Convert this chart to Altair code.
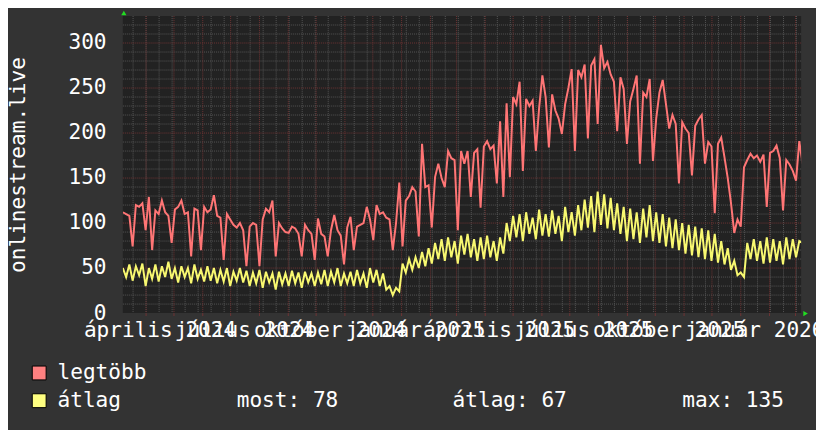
import altair as alt
import pandas as pd

# ---------------- data ----------------
START = "2024-03-07"          # first sample
STEP = "84h"                  # 3.5 days between samples
END = "2026-03-07"

legtobb = [
    112, 110, 108, 74, 120, 118, 122, 92, 129, 70,
    114, 110, 125, 112, 108, 78, 115, 118, 125, 110,
    112, 63, 116, 114, 70, 118, 112, 115, 131, 108,
    106, 59, 110, 104, 98, 95, 100, 92, 52, 96,
    100, 98, 52, 104, 116, 112, 125, 63, 100, 94,
    90, 89, 96, 94, 88, 63, 98, 92, 88, 59,
    105, 88, 85, 63, 92, 109, 92, 86, 54, 95,
    107, 70, 96, 98, 100, 118, 104, 81, 120, 110,
    112, 106, 104, 70, 100, 145, 74, 125, 130, 140,
    135, 85, 188, 140, 142, 95, 151, 166, 150, 140,
    180, 172, 170, 92, 180, 166, 180, 129, 178, 182,
    117, 185, 191, 182, 186, 144, 213, 129, 233, 151,
    240, 232, 257, 158, 238, 230, 236, 180, 228, 264,
    240, 184, 243, 225, 216, 199, 232, 250, 271, 180,
    270, 262, 276, 194, 275, 282, 210, 298, 272, 279,
    265, 257, 202, 262, 249, 188, 235, 249, 264, 166,
    245, 240, 260, 169, 216, 245, 259, 232, 205, 220,
    210, 144, 212, 205, 200, 153, 208, 215, 220, 166,
    190, 185, 111, 188, 195, 173, 150, 122, 89, 104,
    96, 162, 170, 177, 172, 175, 168, 176, 118, 178,
    180, 186, 172, 114, 170, 165, 158, 147, 191, 166,
]

atlag = [
    50, 40, 54, 36, 52, 42, 55, 30, 50, 38,
    54, 35, 52, 40, 57, 38, 50, 34, 52, 40,
    50, 33, 54, 38, 48, 35, 52, 36, 50, 33,
    48, 35, 50, 30, 46, 36, 50, 34, 47, 30,
    45, 33, 48, 28, 46, 34, 44, 26, 46, 32,
    44, 30, 47, 33, 45, 28, 46, 34, 44, 30,
    45, 32, 48, 30, 46, 34, 50, 30, 44, 33,
    46, 30, 48, 33, 44, 28, 50, 34, 48, 30,
    44, 26, 30, 20, 28, 24, 55, 45, 60, 48,
    62, 50, 68, 52, 72, 55, 78, 60, 82, 58,
    84, 62, 80, 55, 86, 65, 88, 62, 82, 58,
    84, 60, 86, 62, 80, 58, 84, 66, 100, 80,
    108, 84, 110, 80, 112, 88, 106, 82, 115, 86,
    110, 85, 114, 88, 108, 80, 118, 90, 112, 86,
    120, 92, 126, 95, 130, 90, 135, 98, 132, 94,
    128, 92, 122, 88, 118, 80, 116, 82, 112, 78,
    116, 84, 120, 80, 112, 78, 110, 74, 106, 72,
    104, 70, 100, 66, 98, 64, 96, 62, 94, 60,
    92, 58, 88, 56, 80, 54, 72, 48, 58, 42,
    45, 40, 78, 60, 82, 58, 80, 55, 84, 56,
    82, 58, 80, 54, 84, 60, 82, 62, 80, 78,
]

series_names = ["legtöbb", "átlag"]
series_colors = ["#ff7575", "#f8f870"]
legend_fill = ["#ff8080", "#ffff80"]

month_names_hu = ["január", "február", "március", "április", "május", "június",
                  "július", "augusztus", "szeptember", "október", "november", "december"]
label_months = ["2024-04-01", "2024-07-01", "2024-10-01", "2025-01-01",
                "2025-04-01", "2025-07-01", "2025-10-01", "2026-01-01"]
y_ticks = [0, 50, 100, 150, 200, 250, 300]
stats = ["most: 78", "átlag: 67", "max: 135"]
y_title = "onlinestream.live"

# ---------------- tables ----------------
n = len(atlag)
dates = pd.date_range(START, periods=n, freq=STEP)
df = pd.DataFrame({
    "date": list(dates) * 2,
    "value": legtobb + atlag,
    "series": [series_names[0]] * n + [series_names[1]] * n,
})

minor_y = pd.DataFrame({"v": [v for v in range(10, 330, 10) if v % 50]})
major_y = pd.DataFrame({"v": [v for v in range(50, 330, 50)]})
month_starts = pd.DataFrame({"d": pd.date_range("2024-04-01", "2026-03-01", freq="MS")})
minor_x = pd.DataFrame({"d": pd.date_range("2024-03-18", END, freq="14D")})
lab_dates = [pd.Timestamp(m) for m in label_months]
labels_df = pd.DataFrame({
    "d": [m + pd.Timedelta(days=15) for m in lab_dates],
    "t": [f"{month_names_hu[m.month - 1]} {m.year}" for m in lab_dates],
})

FONT = "DejaVu Sans Mono"
FS = 21.3
TXT = "#ffffff"
GRID_GRAY = "#555555"
GRID_RED = "#6e3434"

x_scale = alt.Scale(domain=[alt.DateTime(year=2024, month=3, date=7),
                            alt.DateTime(year=2026, month=3, date=7)])
y_scale = alt.Scale(domain=[0, 330], nice=False, zero=True)

y_axis = alt.Axis(values=y_ticks, title=y_title, grid=False, domain=False, ticks=False,
                  labelPadding=17, labelFont=FONT, labelFontSize=FS, labelColor=TXT,
                  labelBaseline="middle",
                  titleFont=FONT, titleFontSize=FS, titleColor=TXT, titleFontWeight="normal",
                  titleAngle=270, titleAlign="center", titleBaseline="middle",
                  titleX=-105, titleY=150)

def xenc(field):
    return alt.X(field, scale=x_scale, axis=None)

def yenc(field):
    return alt.Y(field, scale=y_scale, axis=y_axis)

g_minor_h = alt.Chart(minor_y).mark_rule(color=GRID_GRAY, strokeDash=[1, 1], strokeWidth=1).encode(y=yenc("v:Q"))
g_minor_v = alt.Chart(minor_x).mark_rule(color=GRID_GRAY, strokeDash=[1, 1], strokeWidth=1).encode(x=xenc("d:T"))
g_major_h = alt.Chart(major_y).mark_rule(color=GRID_RED, strokeDash=[1, 1], strokeWidth=1).encode(y=yenc("v:Q"))
g_major_v = alt.Chart(month_starts).mark_rule(color=GRID_RED, strokeDash=[1, 1], strokeWidth=1).encode(x=xenc("d:T"))
g_ticks = alt.Chart(month_starts).mark_rule(color=GRID_RED, strokeWidth=1).encode(
    x=xenc("d:T"), y=alt.value(300), y2=alt.value(303))

lines = alt.Chart(df).mark_line(strokeWidth=2, clip=True).encode(
    x=xenc("date:T"),
    y=yenc("value:Q"),
    color=alt.Color("series:N", scale=alt.Scale(domain=series_names, range=series_colors), legend=None),
    detail="series:N",
)

xlabels = alt.Chart(labels_df).mark_text(font=FONT, fontSize=FS, color=TXT, align="center",
                                         baseline="alphabetic").encode(
    x=xenc("d:T"), y=alt.value(324), text="t:N")

layers = [g_minor_h, g_minor_v, g_major_h, g_major_v, g_ticks, lines, xlabels]

# legend
for i, (name, col) in enumerate(zip(series_names, legend_fill)):
    one = pd.DataFrame({"name": [name]})
    layers.append(alt.Chart(one).mark_square(size=196, filled=True, opacity=1, stroke="#000000",
                                             strokeWidth=1).encode(
        x=alt.value(-84.5), y=alt.value(360.5 + 28 * i), color=alt.value(col)))
    layers.append(alt.Chart(one).mark_text(font=FONT, fontSize=FS, color=TXT, align="left",
                                           baseline="middle").encode(
        x=alt.value(-66), y=alt.value(361 + 28 * i), text="name:N"))

for s, px in zip(stats, [115, 333, 565]):
    layers.append(alt.Chart(pd.DataFrame({"s": [s]})).mark_text(
        font=FONT, fontSize=FS, color=TXT, align="left", baseline="middle").encode(
        x=alt.value(px), y=alt.value(389), text="s:N"))

# arrows at the axis ends
arrow = pd.DataFrame({"a": [0]})
layers.append(alt.Chart(arrow).mark_point(shape="triangle-up", filled=True, color="#22dd22",
                                          size=28, opacity=1).encode(x=alt.value(1), y=alt.value(-3)))
layers.append(alt.Chart(arrow).mark_point(shape="triangle-right", filled=True, color="#22dd22",
                                          size=28, opacity=1).encode(x=alt.value(689.5), y=alt.value(300.5)))

chart = alt.layer(*layers).properties(
    width=685, height=300,
    autosize=alt.AutoSizeParams(type="none"),
    padding={"left": 116, "top": 6, "right": 15, "bottom": 116},
).configure(background="#333333").configure_view(fill="#222222", stroke=None)

chart.save("out.html", embed_options={"renderer": "svg", "actions": False})
